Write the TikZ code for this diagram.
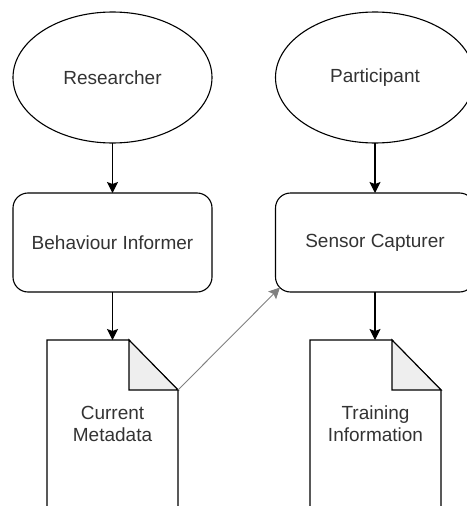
\documentclass[tikz,border=0pt]{standalone}
\usepackage{fontspec}
\setmainfont{Liberation Sans}
\usetikzlibrary{shapes.geometric,arrows.meta,calc}
\definecolor{txt}{HTML}{333333}
\definecolor{foldgray}{HTML}{EEEEEE}
\definecolor{linkgray}{HTML}{808080}
\begin{document}
\begin{tikzpicture}[x=1pt,y=-1pt,
  every node/.style={font=\fontsize{19}{22}\selectfont, text=txt, outer sep=0pt},
  actor/.style={ellipse, draw, line width=1.1pt, minimum width=199pt, minimum height=131pt, inner sep=0pt},
  proc/.style={rectangle, rounded corners=15pt, draw, line width=1.1pt, minimum width=199pt, minimum height=99pt, inner sep=0pt},
  docbox/.style={rectangle, draw=none, minimum width=131pt, minimum height=168pt, align=center, inner sep=0pt},
  arr/.style={line width=1.1pt, -{Stealth[length=11pt,width=11pt,inset=2pt]}},
  docline/.style={line width=1.1pt, line join=miter}
]
\useasboundingbox (0,0) rectangle (466,506);
\node[actor] (res) at (112.5,77.5) {Researcher};
\node[actor] (par) at (375,77.5) {Participant};
\node[proc] (bi) at (112.5,242.5) {Behaviour Informer};
\node[proc] (sc) at (375,242.5) {Sensor Capturer};
\node[docbox] (cm) at (112.5,424) {Current\\Metadata};
\node[docbox] (ti) at (375.5,424) {Training\\Information};
% document outlines
\foreach \d in {cm,ti}{
  \draw[docline] (\d.north west) -- ($(\d.north east)+(-49,0)$) -- ($(\d.north east)+(0,50)$) -- (\d.south east) -- (\d.south west) -- cycle;
  \draw[docline, fill=foldgray] ($(\d.north east)+(-49,0)$) -- ($(\d.north east)+(-49,50)$) -- ($(\d.north east)+(0,50)$) -- cycle;
}
\coordinate (cmfold) at ($(cm.north east)+(0,50)$);
\coordinate (sccorner) at ($(sc.south west)+(4.4,-4.4)$);
\draw[arr] (res) -- (bi);
\draw[arr] (par) -- (sc);
\draw[arr] (bi) -- (cm.north -| bi.south);
\draw[arr] (sc) -- (ti.north -| sc.south);
\draw[arr, draw=linkgray, line width=0.9pt] (cmfold) -- (sccorner);
\end{tikzpicture}
\end{document}
